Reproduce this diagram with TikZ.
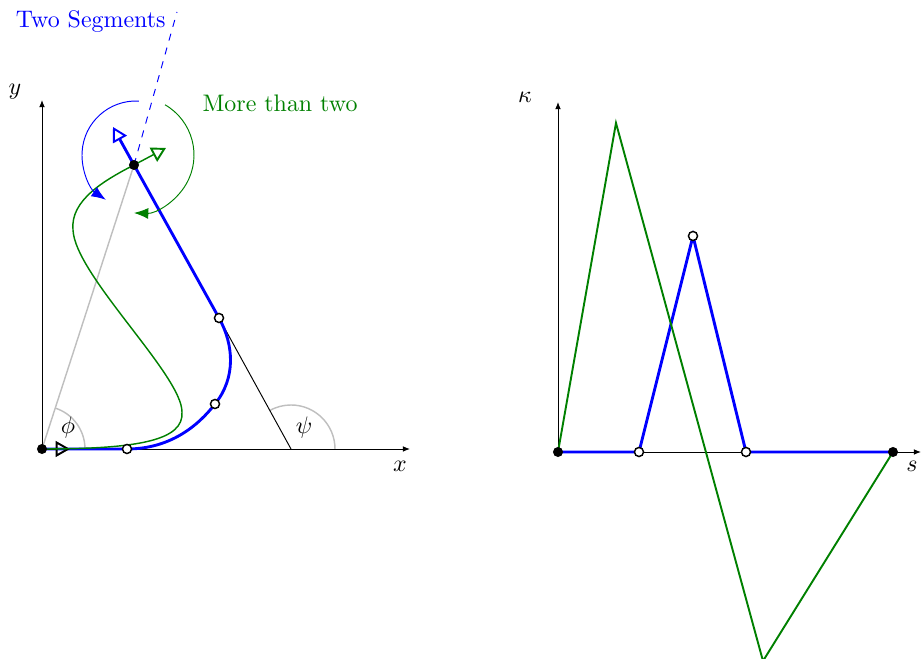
\documentclass[tikz,border=0pt]{standalone}
\usetikzlibrary{arrows.meta}
\begin{document}
\begin{tikzpicture}[
        x=0.418pt, y=0.418pt,
        axis/.style = {-{Latex[length=3pt, width=2.4pt]}, thin},
        guide/.style = {black!25, semithick},
        seg/.style = {blue, very thick},
        alt/.style = {green!50!black, semithick},
        turn/.style = {thin, -{Latex[length=6pt, width=4.6pt]}},
        heading/.style = {-{Triangle[open, length=6pt, width=6.6pt, line width=0.8pt]}},
        joint/.style = {circle, draw, fill=white, inner sep=0pt, minimum size=3.8pt, line width=0.6pt},
        endpt/.style = {circle, fill=black, inner sep=0pt, minimum size=4.2pt},
    ]
    \useasboundingbox (-42,-210) rectangle (880,449);
    % path in the plane
    \coordinate (o) at (0,0);
    \coordinate (xe) at (368,0);
    \coordinate (ye) at (0,349);
    \coordinate (j1) at (85,0);
    \coordinate (j2) at (173,45);
    \coordinate (j3) at (177,131);
    \coordinate (e) at (92,284);
    \coordinate (p) at (249,0);
    \coordinate (st) at (28,0);
    \coordinate (bt) at (71,322);
    \coordinate (gt) at (124,301);
    \coordinate (c) at (94,294);
    \coordinate (dtop) at (135,437);
    \draw[guide] (o) -- (e);
    \draw[guide] ([shift={(0:43)}]o) arc[start angle=0, end angle=72, radius=43];
    \draw[guide] ([shift={(0:44)}]p) arc[start angle=0, end angle=119, radius=44];
    \draw[axis] (o) -- (xe);
    \draw[axis] (o) -- (ye);
    \draw[thin] (j3) -- (p);
    \draw[seg] (o) -- (j1) .. controls (128,0) and (156,23) .. (j2)
        .. controls (194,71) and (192,104) .. (j3) -- (e);
    \draw[seg, heading] (e) -- (bt);
    \draw[heading, thin] (o) -- (st);
    \draw[alt] (o) .. controls (98,0) and (142,9) .. (140,37)
        .. controls (140,74) and (33,174) .. (31,219)
        .. controls (28,249) and (63,269) .. (e);
    \draw[alt, heading] (e) -- (gt);
    \draw[blue, turn] ([shift={(87:54)}]c) arc[start angle=87, end angle=236, radius=54];
    \draw[green!50!black, turn] ([shift={(60:58)}]c) arc[start angle=60, end angle=-92, radius=58];
    \draw[blue, thin, dashed] (e) -- (dtop);
    \node[endpt] (s0) at (o) {};
    \node[endpt] (s1) at (e) {};
    \node[joint] (m1) at (j1) {};
    \node[joint] (m2) at (j2) {};
    \node[joint] (m3) at (j3) {};
    \node (phi) at (26,21) {$\phi$};
    \node (psi) at (262,21) {$\psi$};
    \node (xl) at (358,-17) {$x$};
    \node (yl) at (-27,357) {$y$};
    \node[blue, anchor=east] (two) at (132,427) {Two Segments};
    \node[green!50!black] (more) at (238,346) {More than two};
    % curvature over arc length
    \coordinate (r) at (516,-3);
    \coordinate (rx) at (879,-3);
    \coordinate (ry) at (516,347);
    \coordinate (k1) at (597,-3);
    \coordinate (k2) at (651,213);
    \coordinate (k3) at (704,-3);
    \coordinate (k4) at (851,-3);
    \coordinate (g1) at (574,326);
    \coordinate (g2) at (721,-212);
    \draw[axis] (r) -- (rx);
    \draw[axis] (r) -- (ry);
    \draw[seg] (r) -- (k1) -- (k2) -- (k3) -- (k4);
    \draw[alt, thick] (r) -- (g1) -- (g2) -- (k4);
    \node[endpt] (r0) at (r) {};
    \node[endpt] (r4) at (k4) {};
    \node[joint] (n1) at (k1) {};
    \node[joint] (n2) at (k2) {};
    \node[joint] (n3) at (k3) {};
    \node (kl) at (483,352) {$\kappa$};
    \node (sl) at (870,-17) {$s$};
\end{tikzpicture}
\end{document}
